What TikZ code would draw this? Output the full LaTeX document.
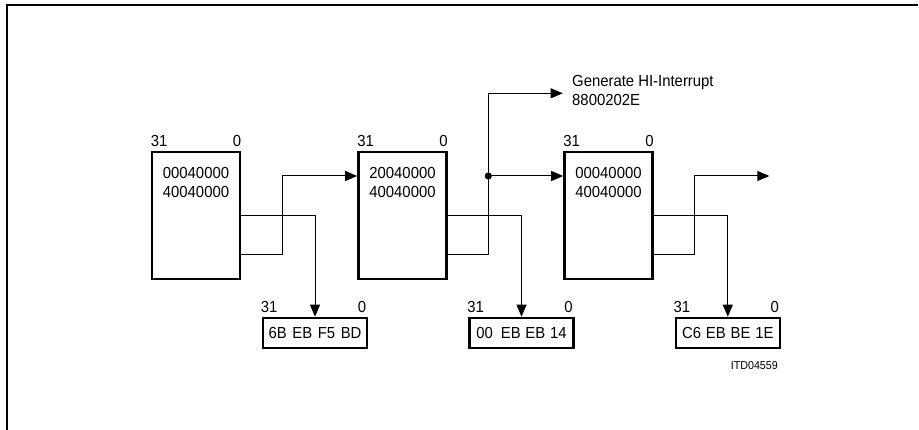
\documentclass[tikz,border=0pt]{standalone}
\usepackage{fontspec}
\setmainfont{Liberation Sans}[FakeStretch=0.93]
\usetikzlibrary{arrows.meta,calc}
\begin{document}
\begin{tikzpicture}[x=1pt,y=-1pt,
  every node/.style={font=\fontsize{16}{19}\selectfont},
  regbox/.style={draw,line width=2.6pt,minimum width=88pt,minimum height=127pt,inner sep=0pt},
  outbox/.style={draw,line width=2.6pt,minimum width=104pt,minimum height=30pt,inner sep=1pt},
  bitlbl/.style={inner sep=0pt},
  conn/.style={line width=1pt},
  arr/.style={conn,-{Triangle[length=12pt,width=10pt]}},
  vals/.style={inner sep=0pt,align=center,font=\fontsize{16}{19}\selectfont}
]
\useasboundingbox (0,0) rectangle (919,430);
% frame
\draw[line width=2pt] (7.3,430) coordinate (fa) -- (7.3,5.3) coordinate (fb) -- (918,5.3) coordinate (fc);

% register boxes
\foreach \i/\x/\ta/\tb in {1/196/00040000/40040000, 2/402.5/20040000/40040000, 3/608.5/00040000/40040000}{
  \node[regbox] (b\i) at (\x,215.5) {};
  \node[bitlbl,anchor=south west] (b\i h) at ($(b\i.north west)+(0,-4)$) {31};
  \node[bitlbl,anchor=south east] (b\i l) at ($(b\i.north east)+(0,-4)$) {0};
  \node[vals,anchor=north] (b\i t) at ($(b\i.north)+(0,16.5)$) {\ta\\\tb};
}

% output boxes
\node[outbox] (s1) at (315,333) {6B\hspace{0.35em}EB\hspace{0.35em}F5\hspace{0.35em}BD};
\node[outbox] (s2) at (521.5,333) {00\hspace{0.5em}EB\hspace{0.3em}EB\hspace{0.3em}14};
\node[outbox] (s3) at (727.8,333) {C6\hspace{0.3em}EB\hspace{0.3em}BE\hspace{0.3em}1E};
\foreach \i in {1,2,3}{
  \node[bitlbl,anchor=south west] (s\i h) at ($(s\i.north west)+(-1,-4)$) {31};
  \node[bitlbl,anchor=south east] (s\i l) at ($(s\i.north east)+(-2,-4)$) {0};
}

% connectors box -> output box
\draw[arr] (b1.east) -| (s1.north);
\draw[arr] (b2.east) -| (s2.north);
\draw[arr] (b3.east) -| (s3.north);

% connectors box -> next box
\coordinate (c1a) at ($(b1.east)+(0,39.5)$);
\coordinate (c1b) at ($(b2.west)+(0,-39.5)$);
\draw[arr] (c1a) -- (282.7,255) |- (c1b);

\coordinate (c2a) at ($(b2.east)+(0,39.5)$);
\coordinate (c2b) at ($(b3.west)+(0,-39.5)$);
\coordinate (dot) at (488.3,176);
\coordinate (gen) at (562.7,93.3);
\draw[arr] (c2a) -- (488.3,255) |- (gen);
\draw[arr] (dot) -- (c2b);
\fill (dot) circle (3.6pt);

\coordinate (c3a) at ($(b3.east)+(0,39.5)$);
\coordinate (c3b) at (769.3,176);
\draw[arr] (c3a) -- (694.3,255) |- (c3b);

% labels
\node[vals,align=left,anchor=west] (genlbl) at (572,90) {Generate HI-Interrupt\\8800202E};
\node[inner sep=0pt,anchor=east,font=\fontsize{11.5}{13}\selectfont] (itd) at (778,366) {ITD04559};
\end{tikzpicture}
\end{document}
